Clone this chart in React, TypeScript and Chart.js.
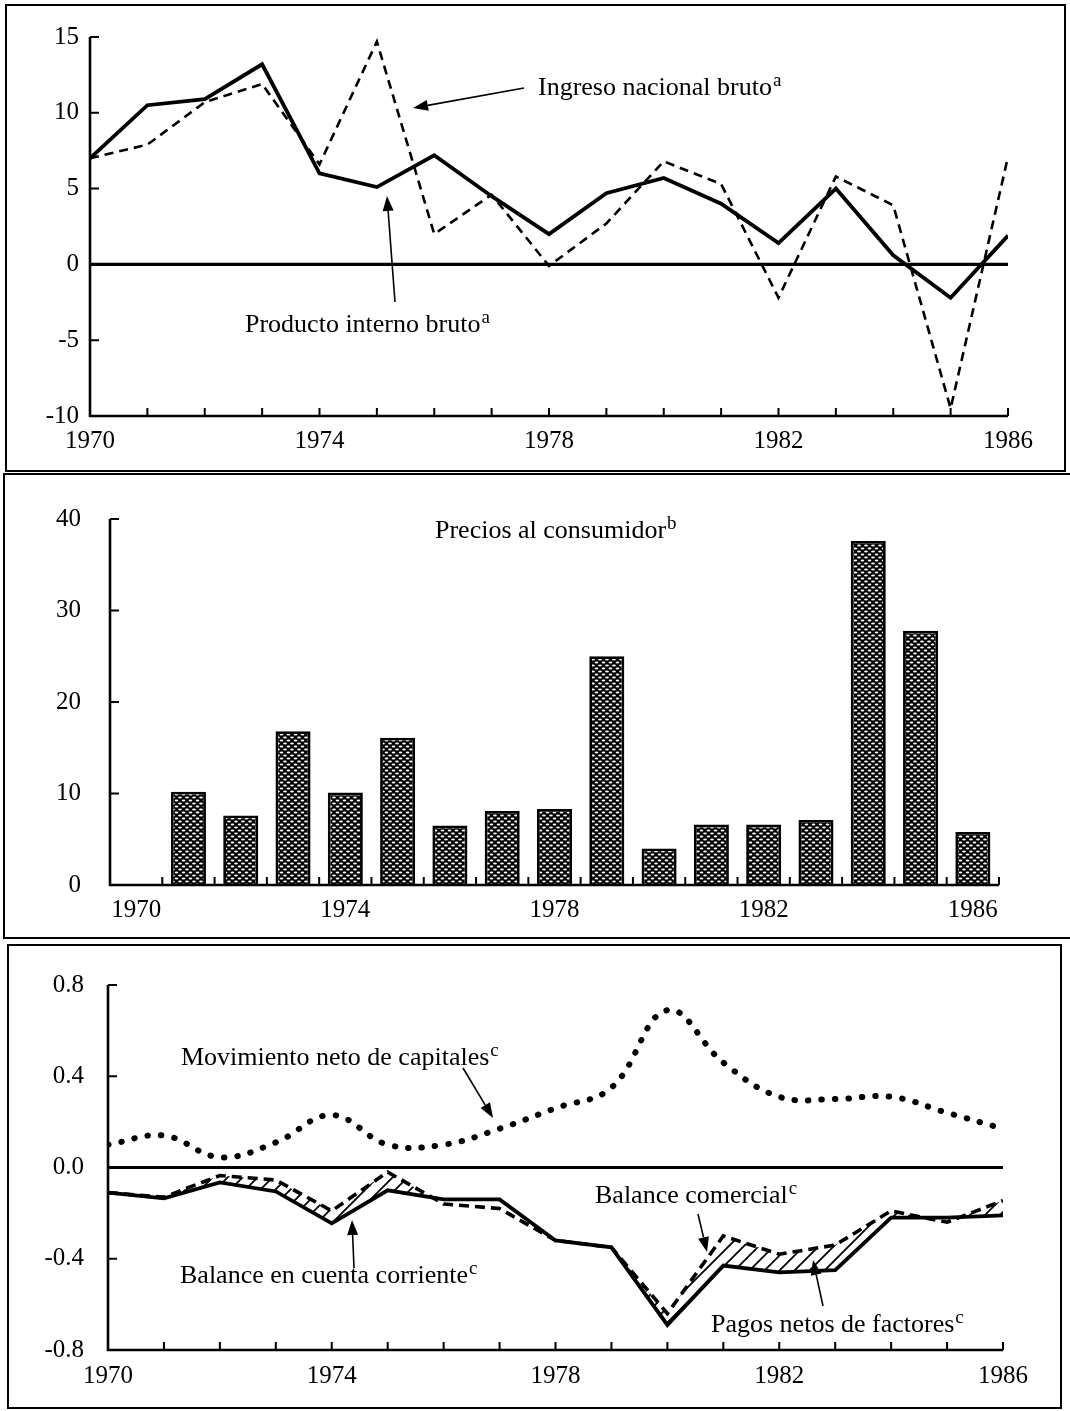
import React, { useEffect, useRef } from "react";
import { Chart, registerables } from "chart.js";

Chart.register(...registerables);

// ---------------- DATA ----------------
const years = [1970, 1971, 1972, 1973, 1974, 1975, 1976, 1977, 1978, 1979, 1980, 1981, 1982, 1983, 1984, 1985, 1986];
const yearLabels = ["1970", "1971", "1972", "1973", "1974", "1975", "1976", "1977", "1978", "1979", "1980", "1981", "1982", "1983", "1984", "1985", "1986"];

// Panel 1: growth rates (%)
const productoInternoBruto = [7.0, 10.5, 10.9, 13.2, 6.0, 5.1, 7.2, 4.5, 2.0, 4.7, 5.7, 4.0, 1.4, 5.0, 0.6, -2.2, 1.9];
const ingresoNacionalBruto = [7.0, 7.9, 10.7, 11.9, 6.6, 14.7, 2.0, 4.6, -0.1, 2.7, 6.8, 5.3, -2.2, 5.8, 3.9, -9.5, 7.1];

// Panel 2: consumer prices (%)
const preciosConsumidor = [null, 10.2, 7.6, 16.8, 10.1, 16.1, 6.5, 8.1, 8.3, 25.0, 4.0, 6.6, 6.6, 7.1, 37.6, 27.8, 5.8];

// Panel 3: external sector
const movimientoCapitales = [0.10, 0.14, 0.045, 0.11, 0.23, 0.10, 0.10, 0.17, 0.26, 0.35, 0.69, 0.46, 0.31, 0.30, 0.31, 0.24, 0.17];
const balanceComercial = [-0.11, -0.13, -0.035, -0.055, -0.19, -0.02, -0.16, -0.18, -0.32, -0.35, -0.64, -0.30, -0.38, -0.34, -0.19, -0.24, -0.145];
const balanceCuentaCorriente = [-0.11, -0.135, -0.065, -0.105, -0.245, -0.10, -0.14, -0.14, -0.32, -0.35, -0.69, -0.43, -0.46, -0.45, -0.22, -0.22, -0.21];

// Tick values
const growthTicks = [-10, -5, 0, 5, 10, 15];
const priceTicks = [0, 10, 20, 30, 40];
const externalTicks = [-0.8, -0.4, 0, 0.4, 0.8];
const labeledYears = [1970, 1974, 1978, 1982, 1986];

// ---------------- STYLE / LAYOUT ----------------
const SERIF = '"Liberation Serif", "Times New Roman", Times, serif';
const TICK_FONT = { family: SERIF, size: 25 };

interface Geom { cx: number; cy: number; cw: number; ch: number; left: number; top: number; right: number; bottom: number; }
interface Note { text: string; sup: string; x: number; y: number; }
interface Arrow { x1: number; y1: number; x2: number; y2: number; }

const g1: Geom = { cx: 6, cy: 6, cw: 1058, ch: 464, left: 90, top: 37, right: 1008, bottom: 416 };
const g2: Geom = { cx: 5, cy: 475, cw: 1062, ch: 463, left: 110, top: 498, right: 999, bottom: 885 };
const g3: Geom = { cx: 9, cy: 946, cw: 1052, ch: 460, left: 108, top: 973, right: 1003, bottom: 1350 };

const notes1: Note[] = [
  { text: "Ingreso nacional bruto", sup: "a", x: 538, y: 95 },
  { text: "Producto interno bruto", sup: "a", x: 245, y: 332 },
];
const arrows1: Arrow[] = [
  { x1: 524, y1: 88, x2: 413, y2: 108 },
  { x1: 395, y1: 302, x2: 387, y2: 196 },
];
const notes2: Note[] = [{ text: "Precios al consumidor", sup: "b", x: 435, y: 538 }];
const notes3: Note[] = [
  { text: "Movimiento neto de capitales", sup: "c", x: 181, y: 1065 },
  { text: "Balance comercial", sup: "c", x: 595, y: 1203 },
  { text: "Balance en cuenta corriente", sup: "c", x: 180, y: 1283 },
  { text: "Pagos netos de factores", sup: "c", x: 711, y: 1332 },
];
const arrows3: Arrow[] = [
  { x1: 463, y1: 1068, x2: 493, y2: 1118 },
  { x1: 698, y1: 1214, x2: 707, y2: 1252 },
  { x1: 354, y1: 1268, x2: 352, y2: 1220 },
  { x1: 823, y1: 1306, x2: 813, y2: 1260 },
];

function drawArrow(ctx: CanvasRenderingContext2D, a: Arrow, ox: number, oy: number) {
  const x1 = a.x1 - ox, y1 = a.y1 - oy, x2 = a.x2 - ox, y2 = a.y2 - oy;
  const ang = Math.atan2(y2 - y1, x2 - x1);
  const L = 15, W = 5.5;
  const bx = x2 - Math.cos(ang) * L, by = y2 - Math.sin(ang) * L;
  ctx.save();
  ctx.strokeStyle = "#000";
  ctx.fillStyle = "#000";
  ctx.lineWidth = 1.6;
  ctx.beginPath();
  ctx.moveTo(x1, y1);
  ctx.lineTo(bx, by);
  ctx.stroke();
  ctx.beginPath();
  ctx.moveTo(x2, y2);
  ctx.lineTo(bx - Math.sin(ang) * W, by + Math.cos(ang) * W);
  ctx.lineTo(bx + Math.sin(ang) * W, by - Math.cos(ang) * W);
  ctx.closePath();
  ctx.fill();
  ctx.restore();
}

function framePlugin(id: string, g: Geom, o: { zero: boolean; bands: number; yMarks: number[]; notes: Note[]; arrows: Arrow[] }) {
  return {
    id,
    beforeDatasetsDraw(chart: any) {
      if (!o.zero) return;
      const ctx = chart.ctx as CanvasRenderingContext2D;
      const a = chart.chartArea;
      const y = chart.scales.y.getPixelForValue(0);
      ctx.save();
      ctx.strokeStyle = "#000";
      ctx.lineWidth = 3.2;
      ctx.beginPath();
      ctx.moveTo(a.left, y);
      ctx.lineTo(a.right, y);
      ctx.stroke();
      ctx.restore();
    },
    afterDatasetsDraw(chart: any) {
      const ctx = chart.ctx as CanvasRenderingContext2D;
      const a = chart.chartArea;
      ctx.save();
      ctx.strokeStyle = "#000";
      ctx.lineWidth = 2.6;
      ctx.beginPath();
      ctx.moveTo(a.left, a.top);
      ctx.lineTo(a.left, a.bottom);
      ctx.lineTo(a.right, a.bottom);
      ctx.stroke();
      ctx.lineWidth = 2;
      ctx.beginPath();
      if (o.bands > 0) {
        const w = (a.right - a.left) / o.bands;
        for (let i = 1; i <= o.bands; i++) {
          const px = a.left + i * w;
          ctx.moveTo(px, a.bottom);
          ctx.lineTo(px, a.bottom - 8);
        }
      } else {
        for (const yr of years) {
          const px = chart.scales.x.getPixelForValue(yr);
          ctx.moveTo(px, a.bottom);
          ctx.lineTo(px, a.bottom - 8);
        }
      }
      for (const v of o.yMarks) {
        const py = chart.scales.y.getPixelForValue(v);
        ctx.moveTo(a.left, py);
        ctx.lineTo(a.left + 9, py);
      }
      ctx.stroke();
      ctx.fillStyle = "#000";
      ctx.textBaseline = "alphabetic";
      ctx.textAlign = "left";
      for (const n of o.notes) {
        ctx.font = `26px ${SERIF}`;
        const x = n.x - g.cx, y = n.y - g.cy;
        ctx.fillText(n.text, x, y);
        const w = ctx.measureText(n.text).width;
        ctx.font = `19px ${SERIF}`;
        ctx.fillText(n.sup, x + w + 1, y - 9);
      }
      ctx.restore();
      for (const ar of o.arrows) drawArrow(ctx, ar, g.cx, g.cy);
    },
  };
}

function dotPattern(): CanvasPattern | string {
  const c = document.createElement("canvas");
  c.width = 7;
  c.height = 6;
  const p = c.getContext("2d");
  if (!p) return "#666";
  p.fillStyle = "#000";
  p.fillRect(0, 0, 7, 6);
  p.fillStyle = "#fff";
  const ell = (x: number, y: number) => {
    p.beginPath();
    p.ellipse(x, y, 1.9, 0.95, 0, 0, Math.PI * 2);
    p.fill();
  };
  ell(3.5, 1.5);
  ell(0, 4.5);
  ell(7, 4.5);
  return p.createPattern(c, "repeat") || "#666";
}

function hatchPattern(): CanvasPattern | string {
  const c = document.createElement("canvas");
  c.width = 15;
  c.height = 15;
  const p = c.getContext("2d");
  if (!p) return "rgba(0,0,0,0.3)";
  p.strokeStyle = "#000";
  p.lineWidth = 1.8;
  p.beginPath();
  p.moveTo(-2, 17);
  p.lineTo(17, -2);
  p.moveTo(-9.5, 9.5);
  p.lineTo(9.5, -9.5);
  p.moveTo(5.5, 24.5);
  p.lineTo(24.5, 5.5);
  p.stroke();
  return p.createPattern(c, "repeat") || "rgba(0,0,0,0.3)";
}

function baseLayout(g: Geom) {
  return {
    responsive: false,
    animation: false as const,
    events: [] as any[],
    layout: { padding: { left: 0, top: g.top - g.cy, right: g.cx + g.cw - g.right, bottom: 0 } },
    plugins: { legend: { display: false }, tooltip: { enabled: false } },
  };
}

function yScale(g: Geom, min: number, max: number, step: number, pad: number, fmt: (v: number) => string) {
  return {
    type: "linear" as const,
    min,
    max,
    grid: { display: false, drawTicks: false },
    border: { display: false },
    ticks: { stepSize: step, padding: pad, color: "#000", font: TICK_FONT, callback: (v: any) => fmt(Number(v)) },
    afterFit: (s: any) => { s.width = g.left - g.cx; },
  };
}

function xLinear(g: Geom, pad: number) {
  return {
    type: "linear" as const,
    min: 1970,
    max: 1986,
    grid: { display: false, drawTicks: false },
    border: { display: false },
    ticks: {
      stepSize: 1,
      autoSkip: false,
      maxRotation: 0,
      padding: pad,
      color: "#000",
      font: TICK_FONT,
      callback: (v: any) => (labeledYears.includes(Number(v)) ? String(v) : ""),
    },
    afterFit: (s: any) => { s.height = g.cy + g.ch - g.bottom; },
  };
}

function pts(vals: (number | null)[]) {
  return years.map((x, i) => ({ x, y: vals[i] }));
}

export default function App() {
  const r1 = useRef<HTMLCanvasElement>(null);
  const r2 = useRef<HTMLCanvasElement>(null);
  const r3 = useRef<HTMLCanvasElement>(null);

  useEffect(() => {
    const charts: Chart[] = [];
    if (r1.current) {
      charts.push(
        new Chart(r1.current, {
          type: "line",
          data: {
            datasets: [
              { data: pts(productoInternoBruto) as any, borderColor: "#000", borderWidth: 3.8, pointRadius: 0, tension: 0, borderJoinStyle: "miter" as const },
              { data: pts(ingresoNacionalBruto) as any, borderColor: "#000", borderWidth: 2.6, borderDash: [9, 6], pointRadius: 0, tension: 0 },
            ],
          },
          options: {
            ...baseLayout(g1),
            scales: {
              x: xLinear(g1, 10) as any,
              y: yScale(g1, -10, 15, 5, 11, (v) => String(v)) as any,
            },
          } as any,
          plugins: [framePlugin("f1", g1, { zero: true, bands: 0, yMarks: growthTicks, notes: notes1, arrows: arrows1 })],
        })
      );
    }
    if (r2.current) {
      charts.push(
        new Chart(r2.current, {
          type: "bar",
          data: {
            labels: yearLabels,
            datasets: [
              {
                data: preciosConsumidor as any,
                backgroundColor: dotPattern() as any,
                borderColor: "#000",
                borderWidth: 2.8,
                barPercentage: 0.67,
                categoryPercentage: 1.0,
              },
            ],
          },
          options: {
            ...baseLayout(g2),
            scales: {
              x: {
                type: "category",
                offset: true,
                grid: { display: false, drawTicks: false, offset: true },
                border: { display: false },
                ticks: {
                  autoSkip: false,
                  maxRotation: 0,
                  padding: 10,
                  color: "#000",
                  font: TICK_FONT,
                  callback: (_v: any, i: number) => (labeledYears.includes(years[i]) ? yearLabels[i] : ""),
                },
                afterFit: (s: any) => { s.height = g2.cy + g2.ch - g2.bottom; },
              } as any,
              y: yScale(g2, 0, 40, 10, 29, (v) => String(v)) as any,
            },
          } as any,
          plugins: [framePlugin("f2", g2, { zero: false, bands: years.length, yMarks: priceTicks, notes: notes2, arrows: [] })],
        })
      );
    }
    if (r3.current) {
      charts.push(
        new Chart(r3.current, {
          type: "line",
          data: {
            datasets: [
              {
                data: pts(movimientoCapitales) as any,
                borderColor: "#000",
                borderWidth: 6,
                borderDash: [0.5, 13],
                borderCapStyle: "round" as const,
                pointRadius: 0,
                tension: 0.4,
                fill: false,
              },
              {
                data: pts(balanceComercial) as any,
                borderColor: "#000",
                borderWidth: 3.6,
                borderDash: [10, 6],
                pointRadius: 0,
                tension: 0,
                fill: { target: 2, above: hatchPattern() as any, below: "rgba(0,0,0,0)" },
              },
              {
                data: pts(balanceCuentaCorriente) as any,
                borderColor: "#000",
                borderWidth: 3.8,
                pointRadius: 0,
                tension: 0,
                fill: false,
              },
            ],
          },
          options: {
            ...baseLayout(g3),
            scales: {
              x: xLinear(g3, 11) as any,
              y: yScale(g3, -0.8, 0.8, 0.4, 24, (v) => (Math.abs(v) < 1e-9 ? "0.0" : v.toFixed(1))) as any,
            },
          } as any,
          plugins: [framePlugin("f3", g3, { zero: true, bands: 0, yMarks: externalTicks, notes: notes3, arrows: arrows3 })],
        })
      );
    }
    return () => {
      charts.forEach((c) => c.destroy());
    };
  }, []);

  const box = (l: number, t: number, w: number, h: number) => ({
    position: "absolute" as const,
    left: l,
    top: t,
    width: w,
    height: h,
    border: "2.5px solid #000",
    boxSizing: "border-box" as const,
  });
  const cv = (g: Geom) => ({ position: "absolute" as const, left: g.cx, top: g.cy, width: g.cw, height: g.ch });

  return (
    <div style={{ position: "absolute", left: 0, top: 0, width: 1070, height: 1411, background: "#fff", overflow: "hidden" }}>
      <div style={box(5, 4, 1061, 468)} />
      <div style={box(3, 473, 1069, 466)} />
      <div style={box(7, 944, 1055, 465)} />
      <canvas ref={r1} width={g1.cw} height={g1.ch} style={cv(g1)} />
      <canvas ref={r2} width={g2.cw} height={g2.ch} style={cv(g2)} />
      <canvas ref={r3} width={g3.cw} height={g3.ch} style={cv(g3)} />
    </div>
  );
}
